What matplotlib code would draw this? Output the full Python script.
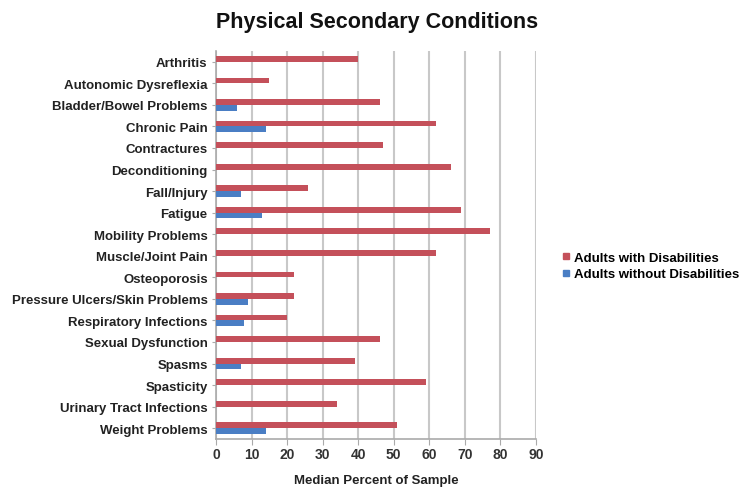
import numpy as np
import matplotlib.pyplot as plt
from matplotlib.lines import Line2D

plt.rcParams['font.family'] = ['Liberation Sans', 'DejaVu Sans']
plt.rcParams['font.weight'] = 'bold'

conditions = ['Arthritis', 'Autonomic Dysreflexia', 'Bladder/Bowel Problems', 'Chronic Pain',
              'Contractures', 'Deconditioning', 'Fall/Injury', 'Fatigue', 'Mobility Problems',
              'Muscle/Joint Pain', 'Osteoporosis', 'Pressure Ulcers/Skin Problems',
              'Respiratory Infections', 'Sexual Dysfunction', 'Spasms', 'Spasticity',
              'Urinary Tract Infections', 'Weight Problems']
with_dis = [40, 15, 46, 62, 47, 66, 26, 69, 77, 62, 22, 22, 20, 46, 39, 59, 34, 51]
without_dis = [0, 0, 6, 14, 0, 0, 7, 13, 0, 0, 0, 9, 8, 0, 7, 0, 0, 14]

red = '#c4505a'
blue = '#4a7ec4'

fig = plt.figure(figsize=(7.55, 4.89), dpi=100)
ax = fig.add_axes([216 / 755, 1 - 440 / 489, 320 / 755, 388 / 489])

y = np.arange(len(conditions))
h = 0.27
ax.barh(y - h / 2, with_dis, height=h, color=red, zorder=3)
ax.barh(y + h / 2, without_dis, height=h, color=blue, zorder=3)

ax.set_ylim(len(conditions) - 0.5, -0.5)
ax.set_xlim(0, 90)
ax.set_xticks(range(0, 91, 10))
ax.set_yticks(y)
ax.set_yticklabels(conditions, fontsize=9.5, fontweight='bold', color='#222222')
ax.tick_params(axis='x', labelsize=10, colors='#333333', length=4, color='#aaaaaa', pad=2)
ax.tick_params(axis='y', length=3, color='#aaaaaa', pad=3)
for lab in ax.get_xticklabels():
    lab.set_fontweight('bold')

ax.grid(axis='x', color='#c8c8c8', linewidth=1.5, zorder=0)
for s in ['top', 'right']:
    ax.spines[s].set_visible(False)
for s in ['left', 'bottom']:
    ax.spines[s].set_color('#aaaaaa')
    ax.spines[s].set_linewidth(1.2)

ax.set_xlabel('Median Percent of Sample', fontsize=9.5, fontweight='bold', labelpad=9, color='#222222')
fig.suptitle('Physical Secondary Conditions', fontsize=15.5, fontweight='bold', y=0.975, x=0.5, color='#111111')

handles = [Line2D([], [], marker='s', linestyle='', color=red, markersize=5),
           Line2D([], [], marker='s', linestyle='', color=blue, markersize=5)]
fig.legend(handles, ['Adults with Disabilities', 'Adults without Disabilities'],
           loc='center left', bbox_to_anchor=(548 / 755, 1 - 267 / 489), frameon=False,
           fontsize=9.5, handletextpad=0.1, labelspacing=0.3, handlelength=1)

fig.savefig('out.png', dpi=100)
